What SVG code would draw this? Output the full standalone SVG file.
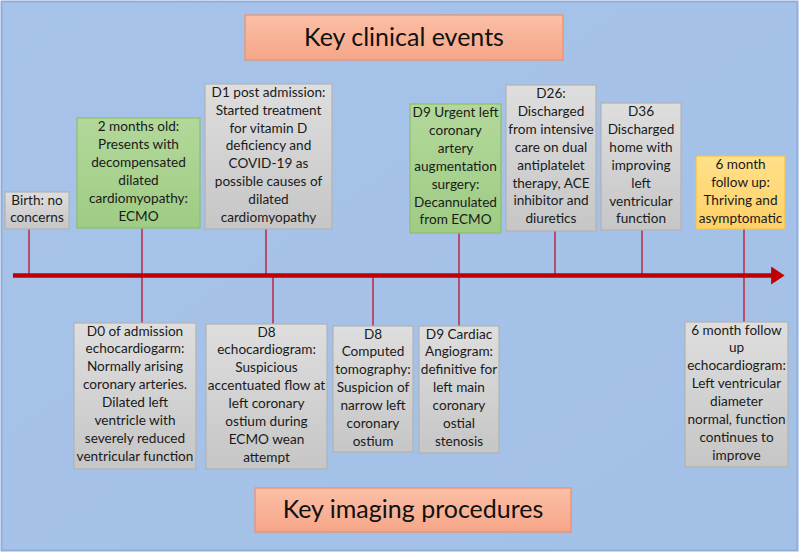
<svg xmlns="http://www.w3.org/2000/svg" width="800" height="553" viewBox="0 0 800 553">
<defs>
<linearGradient id="gGray" x1="0" y1="0" x2="0" y2="1"><stop offset="0" stop-color="#dedede"/><stop offset="1" stop-color="#c6c6c6"/></linearGradient>
<linearGradient id="gGreen" x1="0" y1="0" x2="0" y2="1"><stop offset="0" stop-color="#b2d89a"/><stop offset="1" stop-color="#9fcc84"/></linearGradient>
<linearGradient id="gYellow" x1="0" y1="0" x2="0" y2="1"><stop offset="0" stop-color="#ffe08a"/><stop offset="1" stop-color="#ffd166"/></linearGradient>
<linearGradient id="gOrange" x1="0" y1="0" x2="0" y2="1"><stop offset="0" stop-color="#fbbfa6"/><stop offset="1" stop-color="#f6a688"/></linearGradient>
<linearGradient id="gBg" x1="0" y1="0" x2="1" y2="1"><stop offset="0" stop-color="#a7c3e9"/><stop offset="1" stop-color="#a3c0e6"/></linearGradient>
<marker id="arrow" markerWidth="4" markerHeight="4" refX="0.2" refY="2" orient="auto" markerUnits="strokeWidth"><path d="M0,0 L3,2 L0,4 Z" fill="#c00000"/></marker>
</defs>
<style>
.box{stroke-width:1.2}
.gray{fill:url(#gGray);stroke:#b2b2b2}
.green{fill:url(#gGreen);stroke:#8cbf6c}
.yellow{fill:url(#gYellow);stroke:#f2c24a}
.title{fill:url(#gOrange);stroke:#e98f6e;stroke-width:1.2}
.t{font-family:Lato,"Liberation Sans",sans-serif;font-size:13.6px;fill:#1a1a1a;text-anchor:middle}
.big{font-family:Lato,"Liberation Sans",sans-serif;font-size:25px;fill:#111;text-anchor:middle}
.conn{stroke:#c0102a;stroke-width:1.3;fill:none}
</style>
<rect x="1.5" y="1.5" width="796" height="549" fill="url(#gBg)" stroke="#8eaedb" stroke-width="2"/>

<g id="connectors">
<line class="conn" x1="29" y1="229" x2="29" y2="275"/>
<line class="conn" x1="142" y1="228" x2="142" y2="323"/>
<line class="conn" x1="266" y1="229" x2="266" y2="275"/>
<line class="conn" x1="459" y1="233" x2="459" y2="326"/>
<line class="conn" x1="555" y1="231" x2="555" y2="275"/>
<line class="conn" x1="642" y1="230" x2="642" y2="275"/>
<line class="conn" x1="744" y1="229" x2="744" y2="322"/>
<line class="conn" x1="273" y1="277" x2="273" y2="324"/>
<line class="conn" x1="373" y1="277" x2="373" y2="326"/>
<line x1="13" y1="275.5" x2="772" y2="275.5" stroke="#c00000" stroke-width="4.5" marker-end="url(#arrow)"/>
</g>

<g id="title-clinical">
<rect class="title" x="245" y="15" width="318" height="45"/>
<text class="big" x="404" y="46">Key clinical events</text>
</g>
<g id="title-imaging">
<rect class="title" x="255" y="488" width="316" height="44"/>
<text class="big" x="413" y="518">Key imaging procedures</text>
</g>

<g id="birth">
<rect class="box gray" x="5" y="192" width="64" height="37"/>
<text class="t" x="37" y="204.5"><tspan x="37">Birth: no</tspan><tspan x="37" dy="17.9">concerns</tspan></text>
</g>
<g id="two-months">
<rect class="box green" x="77" y="118" width="123" height="110"/>
<text class="t" x="138.5" y="131"><tspan x="138.5">2 months old:</tspan><tspan x="138.5" dy="17.9">Presents with</tspan><tspan x="138.5" dy="17.9">decompensated</tspan><tspan x="138.5" dy="17.9">dilated</tspan><tspan x="138.5" dy="17.9">cardiomyopathy:</tspan><tspan x="138.5" dy="17.9">ECMO</tspan></text>
</g>
<g id="d1">
<rect class="box gray" x="205" y="84" width="127" height="145"/>
<text class="t" x="268.5" y="96.7"><tspan x="268.5">D1 post admission:</tspan><tspan x="268.5" dy="17.9">Started treatment</tspan><tspan x="268.5" dy="17.9">for vitamin D</tspan><tspan x="268.5" dy="17.9">deficiency and</tspan><tspan x="268.5" dy="17.9">COVID-19 as</tspan><tspan x="268.5" dy="17.9">possible causes of</tspan><tspan x="268.5" dy="17.9">dilated</tspan><tspan x="268.5" dy="17.9">cardiomyopathy</tspan></text>
</g>
<g id="d9-surgery">
<rect class="box green" x="410" y="104" width="91" height="129"/>
<text class="t" x="455.5" y="117"><tspan x="455.5">D9 Urgent left</tspan><tspan x="455.5" dy="17.9">coronary</tspan><tspan x="455.5" dy="17.9">artery</tspan><tspan x="455.5" dy="17.9">augmentation</tspan><tspan x="455.5" dy="17.9">surgery:</tspan><tspan x="455.5" dy="17.9">Decannulated</tspan><tspan x="455.5" dy="17.9">from ECMO</tspan></text>
</g>
<g id="d26">
<rect class="box gray" x="506" y="85" width="90" height="146"/>
<text class="t" x="551" y="98"><tspan x="551">D26:</tspan><tspan x="551" dy="17.9">Discharged</tspan><tspan x="551" dy="17.9">from intensive</tspan><tspan x="551" dy="17.9">care on dual</tspan><tspan x="551" dy="17.9">antiplatelet</tspan><tspan x="551" dy="17.9">therapy, ACE</tspan><tspan x="551" dy="17.9">inhibitor and</tspan><tspan x="551" dy="17.9">diuretics</tspan></text>
</g>
<g id="d36">
<rect class="box gray" x="601" y="103" width="80" height="127"/>
<text class="t" x="641" y="116"><tspan x="641">D36</tspan><tspan x="641" dy="17.9">Discharged</tspan><tspan x="641" dy="17.9">home with</tspan><tspan x="641" dy="17.9">improving</tspan><tspan x="641" dy="17.9">left</tspan><tspan x="641" dy="17.9">ventricular</tspan><tspan x="641" dy="17.9">function</tspan></text>
</g>
<g id="six-month">
<rect class="box yellow" x="696" y="156" width="89" height="73"/>
<text class="t" x="740.5" y="169"><tspan x="740.5">6 month</tspan><tspan x="740.5" dy="17.9">follow up:</tspan><tspan x="740.5" dy="17.9">Thriving and</tspan><tspan x="740.5" dy="17.9">asymptomatic</tspan></text>
</g>

<g id="d0-echo">
<rect class="box gray" x="74" y="323" width="122" height="146"/>
<text class="t" x="135" y="335.5"><tspan x="135">D0 of admission</tspan><tspan x="135" dy="17.9">echocardiogarm:</tspan><tspan x="135" dy="17.9">Normally arising</tspan><tspan x="135" dy="17.9">coronary arteries.</tspan><tspan x="135" dy="17.9">Dilated left</tspan><tspan x="135" dy="17.9">ventricle with</tspan><tspan x="135" dy="17.9">severely reduced</tspan><tspan x="135" dy="17.9">ventricular function</tspan></text>
</g>
<g id="d8-echo">
<rect class="box gray" x="206" y="324" width="121" height="145"/>
<text class="t" x="266.5" y="336.5"><tspan x="266.5">D8</tspan><tspan x="266.5" dy="17.9">echocardiogram:</tspan><tspan x="266.5" dy="17.9">Suspicious</tspan><tspan x="266.5" dy="17.9">accentuated flow at</tspan><tspan x="266.5" dy="17.9">left coronary</tspan><tspan x="266.5" dy="17.9">ostium during</tspan><tspan x="266.5" dy="17.9">ECMO wean</tspan><tspan x="266.5" dy="17.9">attempt</tspan></text>
</g>
<g id="d8-ct">
<rect class="box gray" x="333" y="326" width="80" height="126"/>
<text class="t" x="373" y="338.5"><tspan x="373">D8</tspan><tspan x="373" dy="17.9">Computed</tspan><tspan x="373" dy="17.9">tomography:</tspan><tspan x="373" dy="17.9">Suspicion of</tspan><tspan x="373" dy="17.9">narrow left</tspan><tspan x="373" dy="17.9">coronary</tspan><tspan x="373" dy="17.9">ostium</tspan></text>
</g>
<g id="d9-angio">
<rect class="box gray" x="419" y="326" width="80" height="127"/>
<text class="t" x="459" y="338.5"><tspan x="459">D9 Cardiac</tspan><tspan x="459" dy="17.9">Angiogram:</tspan><tspan x="459" dy="17.9">definitive for</tspan><tspan x="459" dy="17.9">left main</tspan><tspan x="459" dy="17.9">coronary</tspan><tspan x="459" dy="17.9">ostial</tspan><tspan x="459" dy="17.9">stenosis</tspan></text>
</g>
<g id="six-month-echo">
<rect class="box gray" x="685" y="322" width="103" height="145"/>
<text class="t" x="736.5" y="334.5"><tspan x="736.5">6 month follow</tspan><tspan x="736.5" dy="17.9">up</tspan><tspan x="736.5" dy="17.9">echocardiogram:</tspan><tspan x="736.5" dy="17.9">Left ventricular</tspan><tspan x="736.5" dy="17.9">diameter</tspan><tspan x="736.5" dy="17.9">normal, function</tspan><tspan x="736.5" dy="17.9">continues to</tspan><tspan x="736.5" dy="17.9">improve</tspan></text>
</g>
</svg>
